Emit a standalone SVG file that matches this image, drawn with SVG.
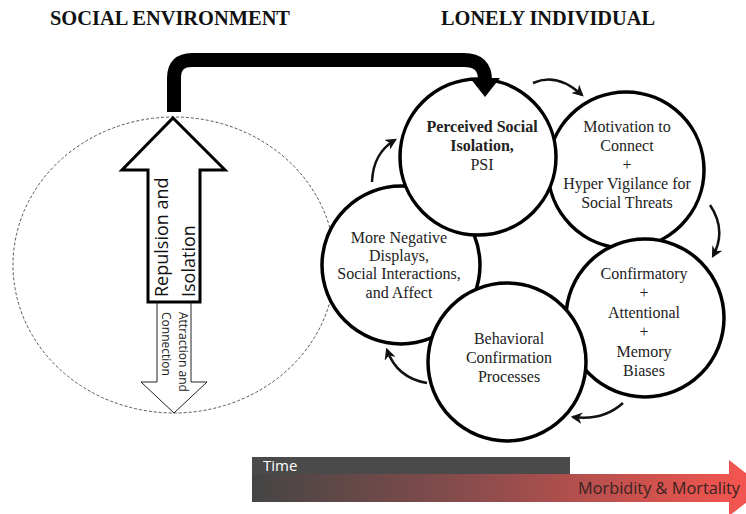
<svg xmlns="http://www.w3.org/2000/svg" width="746" height="514" viewBox="0 0 746 514">
  <style>
    .title { font-family: "Liberation Serif", serif; font-weight: bold; font-size: 21px; fill: #111; }
    .ctext { font-family: "Liberation Serif", serif; font-size: 16px; fill: #222; text-anchor: middle; }
    .bold { font-weight: bold; }
    .circ { fill: #fff; stroke: #000; stroke-width: 3.5; }
    .loop { fill: none; stroke: #111; stroke-width: 2.5; marker-end: url(#ah); }
    .sans { font-family: "Open Sans", "DejaVu Sans", sans-serif; }
  </style>
  <defs>
    <marker id="ah" viewBox="0 0 10 10" refX="8" refY="5" markerWidth="4.6" markerHeight="4.6" orient="auto" markerUnits="strokeWidth">
      <path d="M0,0 L10,5 L0,10 L3,5 Z" fill="#111"/>
    </marker>
    <linearGradient id="grad" x1="252" y1="0" x2="740" y2="0" gradientUnits="userSpaceOnUse">
      <stop offset="0" stop-color="#454545"/>
      <stop offset="0.45" stop-color="#8a4c4c"/>
      <stop offset="1" stop-color="#f2554f"/>
    </linearGradient>
  </defs>
  <rect width="746" height="514" fill="#fff"/>

  <text class="title" x="50" y="25" textLength="240" lengthAdjust="spacingAndGlyphs">SOCIAL ENVIRONMENT</text>
  <text class="title" x="441" y="25" textLength="214" lengthAdjust="spacingAndGlyphs">LONELY INDIVIDUAL</text>

  <g id="social-environment">
    <ellipse cx="174" cy="265" rx="161" ry="148" fill="none" stroke="#555" stroke-width="1" stroke-dasharray="3 2"/>
  </g>

  <g id="attraction-arrow">
    <polygon points="157,302 191,302 191,382 207,382 174,413 141,382 157,382" fill="#fff" stroke="#222" stroke-width="1"/>
    <text class="sans" font-size="12" fill="#222" transform="translate(179,312) rotate(90)">Attraction and</text>
    <text class="sans" font-size="12" fill="#222" transform="translate(162,312) rotate(90)">Connection</text>
  </g>

  <g id="repulsion-arrow">
    <polygon points="173,118 225,170 200,170 200,302 148,302 148,170 122,170" fill="#fff" stroke="#000" stroke-width="3" stroke-linejoin="miter"/>
    <text class="sans" font-size="18" fill="#111" transform="translate(168,297) rotate(-90)">Repulsion and</text>
    <text class="sans" font-size="18" fill="#111" transform="translate(195,297) rotate(-90)">Isolation</text>
  </g>

  <g id="negative-displays">
    <circle class="circ" cx="401" cy="265" r="79"/>
    <text class="ctext" x="399" y="243">More Negative</text>
    <text class="ctext" x="399" y="261">Displays,</text>
    <text class="ctext" x="399" y="279">Social Interactions,</text>
    <text class="ctext" x="399" y="298">and Affect</text>
  </g>

  <g id="motivation">
    <circle class="circ" cx="626" cy="170" r="78"/>
    <text class="ctext" x="627" y="132">Motivation to</text>
    <text class="ctext" x="627" y="151">Connect</text>
    <text class="ctext" x="627" y="170">+</text>
    <text class="ctext" x="627" y="189">Hyper Vigilance for</text>
    <text class="ctext" x="627" y="208">Social Threats</text>
  </g>

  <g id="confirmatory">
    <circle class="circ" cx="645" cy="318" r="79"/>
    <text class="ctext" x="644" y="279">Confirmatory</text>
    <text class="ctext" x="644" y="298">+</text>
    <text class="ctext" x="644" y="318">Attentional</text>
    <text class="ctext" x="644" y="337">+</text>
    <text class="ctext" x="644" y="357">Memory</text>
    <text class="ctext" x="644" y="376">Biases</text>
  </g>

  <g id="behavioral">
    <circle class="circ" cx="507" cy="362" r="79"/>
    <text class="ctext" x="509" y="344">Behavioral</text>
    <text class="ctext" x="509" y="363">Confirmation</text>
    <text class="ctext" x="509" y="382">Processes</text>
  </g>

  <g id="psi">
    <circle class="circ" cx="478" cy="157" r="78"/>
    <text class="ctext bold" x="482" y="132">Perceived Social</text>
    <text class="ctext bold" x="482" y="151">Isolation,</text>
    <text class="ctext" x="482" y="170">PSI</text>
  </g>

  <g id="connectors">
    <path d="M174,112 V78 Q174,60 192,60 H464 Q485,60 485,80" fill="none" stroke="#000" stroke-width="14"/>
    <polygon points="470,78 500,78 485,97" fill="#000"/>
    <path class="loop" d="M533,83 Q557,72 582,95"/>
    <path class="loop" d="M710,205 Q727,230 713,256"/>
    <path class="loop" d="M623,403 Q603,421 573,417"/>
    <path class="loop" d="M427,383 Q397,378 387,350"/>
    <path class="loop" d="M372,182 Q373,153 395,140"/>
  </g>

  <g id="timeline">
    <rect x="252" y="457" width="318" height="17" fill="#4a4a4a"/>
    <text class="sans" x="263" y="471" font-size="15" fill="#fff">Time</text>
    <path d="M252,474 H729 V460 L765,488 L729,516 V502 H252 Z" fill="url(#grad)"/>
    <text class="sans" x="578" y="494" font-size="16" fill="#3a2222" textLength="162" lengthAdjust="spacingAndGlyphs">Morbidity &amp; Mortality</text>
  </g>
</svg>
